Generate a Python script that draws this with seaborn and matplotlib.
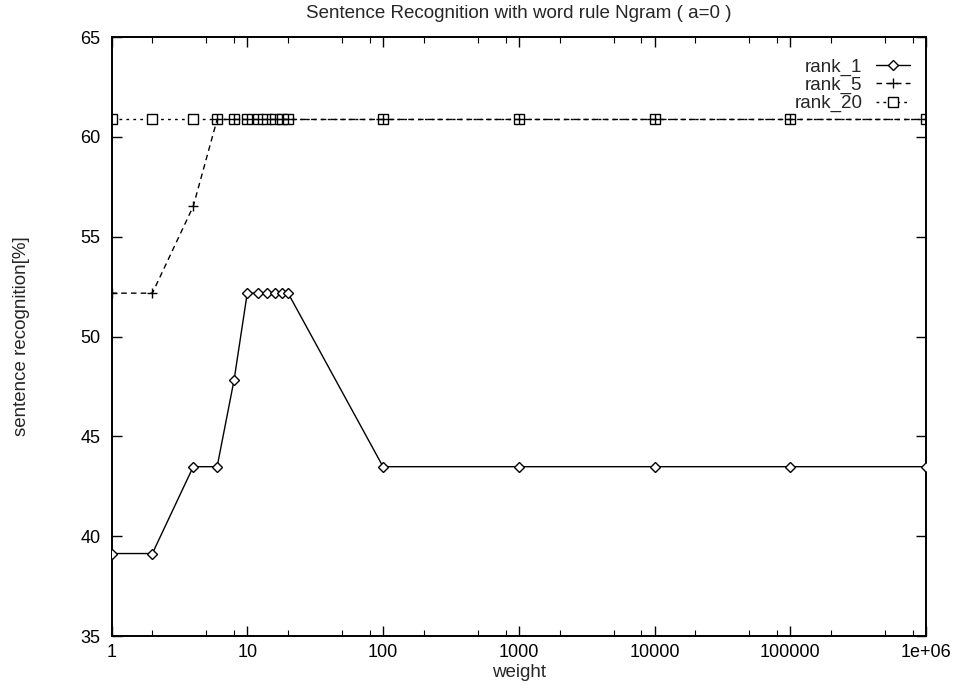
import matplotlib
matplotlib.use("Agg")
import matplotlib.pyplot as plt
import matplotlib.ticker as mticker
import seaborn as sns
import pandas as pd
import numpy as np

# ---- data ----
weights = [1, 2, 4, 6, 8, 10, 12, 14, 16, 18, 20, 100, 1000, 10000, 100000, 1000000]
rank_1 = [39.13, 39.13, 43.48, 43.48, 47.83, 52.17, 52.17, 52.17, 52.17, 52.17, 52.17,
          43.48, 43.48, 43.48, 43.48, 43.48]
rank_5 = [52.17, 52.17, 56.52, 60.87, 60.87, 60.87, 60.87, 60.87, 60.87, 60.87, 60.87,
          60.87, 60.87, 60.87, 60.87, 60.87]
rank_20 = [60.87, 60.87, 60.87, 60.87, 60.87, 60.87, 60.87, 60.87, 60.87, 60.87, 60.87,
           60.87, 60.87, 60.87, 60.87, 60.87]
x_ticks = [1, 10, 100, 1000, 10000, 100000, 1000000]
x_tick_labels = ["1", "10", "100", "1000", "10000", "100000", "1e+06"]
y_ticks = [35, 40, 45, 50, 55, 60, 65]
title = "Sentence Recognition with word rule Ngram ( a=0 )"

df = pd.DataFrame({"weight": weights, "rank_1": rank_1, "rank_5": rank_5, "rank_20": rank_20})

sns.set_style("ticks")
plt.rcParams["font.family"] = ["Liberation Sans", "DejaVu Sans"]

fig = plt.figure(figsize=(9.55, 6.88), dpi=100)
ax = fig.add_axes([111.5 / 955, 1 - 636 / 688, (926 - 111.5) / 955, (636 - 37) / 688])

lw = 1.0
sns.lineplot(data=df, x="weight", y="rank_1", ax=ax, color="black", lw=lw,
             marker="D", markersize=5, markerfacecolor="white", markeredgecolor="black",
             markeredgewidth=1.0, label="rank_1", zorder=3)
sns.lineplot(data=df, x="weight", y="rank_20", ax=ax, color="black", lw=lw,
             linestyle=(0, (2, 3)), marker="s", markersize=6.5, markerfacecolor="white",
             markeredgecolor="black", markeredgewidth=1.0, label="rank_20", zorder=2)
sns.lineplot(data=df, x="weight", y="rank_5", ax=ax, color="black", lw=lw,
             linestyle=(0, (4, 3)), marker="+", markersize=7.5, markeredgewidth=1.0,
             markeredgecolor="black", label="rank_5", zorder=2.5)

ax.set_xscale("log")
ax.set_xlim(1, 1e6)
ax.set_ylim(35, 65)
ax.xaxis.set_major_locator(mticker.FixedLocator(x_ticks))
ax.xaxis.set_major_formatter(mticker.FixedFormatter(x_tick_labels))
ax.xaxis.set_minor_locator(mticker.LogLocator(base=10, subs=(2, 5, 8), numticks=20))
ax.xaxis.set_minor_formatter(mticker.NullFormatter())
ax.set_yticks(y_ticks)

ax.tick_params(axis="both", which="both", direction="in", top=True, right=True,
               labelsize=13, colors="black")
ax.tick_params(axis="y", which="major", pad=8)
ax.tick_params(axis="x", which="major", pad=6)
ax.tick_params(axis="both", which="major", length=7, width=1.0)
ax.tick_params(axis="x", which="minor", length=4, width=0.8)
for s in ax.spines.values():
    s.set_linewidth(1.4)
    s.set_color("black")

ax.set_xlabel("weight", fontsize=13.5, labelpad=2)
ax.set_ylabel("sentence recognition[%]", fontsize=13.5, labelpad=36)
ax.set_title(title, fontsize=13.5, pad=14)

# legend in the reference order
handles, labels = ax.get_legend_handles_labels()
order = [labels.index(n) for n in ["rank_1", "rank_5", "rank_20"]]
leg = ax.legend([handles[i] for i in order], [labels[i] for i in order],
                loc="upper right", bbox_to_anchor=(1.007, 1.0),
                frameon=False, markerfirst=False, fontsize=13.5,
                handlelength=1.8, handletextpad=0.75, labelspacing=0.05,
                borderaxespad=0.45, borderpad=0.7)
for t in leg.get_texts():
    t.set_ha("right")

fig.savefig("out.png", dpi=100, facecolor="white")
